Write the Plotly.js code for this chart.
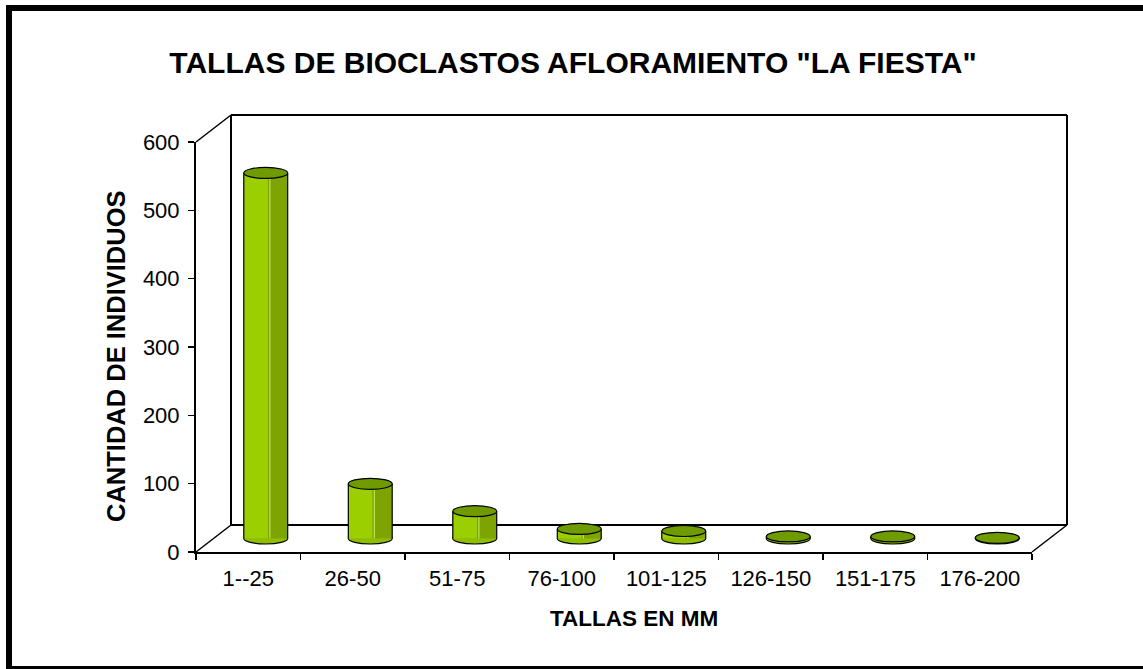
<!DOCTYPE html>
<html>
<head>
<meta charset="utf-8">
<script src="https://cdn.plot.ly/plotly-3.0.1.min.js"></script>
<style>
  html, body { margin: 0; padding: 0; background: #fff; overflow: hidden; }
  #wrap { position: relative; width: 1143px; height: 669px; overflow: hidden; }
  #chart { position: absolute; left: 0; top: 0; width: 1143px; height: 669px; }
  #frame { position: absolute; left: 6px; top: 5px; width: 1160px; height: 667px;
           border: 6px solid #000; box-sizing: border-box; pointer-events: none; }
</style>
</head>
<body>
<div id="wrap">
  <div id="chart"></div>
  <div id="frame"></div>
</div>
<script>
// ---- data ----
const categories = ["1--25", "26-50", "51-75", "76-100", "101-125", "126-150", "151-175", "176-200"];
const counts = [535, 80, 40, 14, 11, 3, 3, 1];
const yTicks = [0, 100, 200, 300, 400, 500, 600];

const titleText = 'TALLAS DE BIOCLASTOS AFLORAMIENTO "LA FIESTA"';
const xTitle = "TALLAS EN MM";
const yTitle = "CANTIDAD DE INDIVIDUOS";

// ---- geometry (pixels) ----
const W = 1143, H = 669;
const mL = 196, mR = 76, mT = 115, mB = 117;
const PW = W - mL - mR, PH = H - mT - mB;     // paper area
const depthX = 35, depthY = 27;               // 3D depth offset of back wall
const fx = (PW - depthX) / PW, fy = (PH - depthY) / PH;
const yMax = 600;
const pxPerUnit = (PH - depthY) / yMax;
const yPad = 15;                              // room under zero for cylinder bottoms
const mx0 = (depthX / 2) / PW;
const my0 = (depthY / 2 - yPad * pxPerUnit) / PH;
const my1 = (depthY / 2 + (PH - depthY)) / PH;

const idx = categories.map((c, i) => i);
const barW = 0.42;
const ellH = 5.5 / pxPerUnit;                 // half height of ellipse in data units

const traces = [
  // front axis carrier (invisible)
  { type: "bar", x: categories, y: counts.map(() => 0), xaxis: "x", yaxis: "y",
    marker: { color: "rgba(0,0,0,0)" }, hoverinfo: "skip", showlegend: false },
  // cylinder dark body
  { type: "bar", x: idx, y: counts, xaxis: "x3", yaxis: "y3", width: barW,
    marker: { color: "#7da400", line: { width: 0 } }, showlegend: false },
  // cylinder light side
  { type: "bar", x: idx, y: counts, xaxis: "x3", yaxis: "y3", width: barW * 0.55,
    offset: -barW / 2, marker: { color: "#9ccf00", line: { width: 0 } }, showlegend: false },
  // highlight stripe
  { type: "bar", x: idx, y: counts, xaxis: "x3", yaxis: "y3", width: 0.012,
    offset: barW * 0.08, marker: { color: "#b9e05a", line: { width: 0 } }, showlegend: false }
];

const shapes = [];
// back wall and floor/side edges (paper coords)
const lineS = { color: "#000", width: 2 };
const lineD = { color: "#000", width: 1.5 };
shapes.push({ type: "line", layer: "below", xref: "paper", yref: "paper", x0: 1 - fx, y0: 1 - fy, x1: 1 - fx, y1: 1, line: lineS });
shapes.push({ type: "line", layer: "below", xref: "paper", yref: "paper", x0: 1 - fx, y0: 1, x1: 1, y1: 1, line: lineS });
shapes.push({ type: "line", layer: "below", xref: "paper", yref: "paper", x0: 1, y0: 1, x1: 1, y1: 1 - fy, line: lineS });
shapes.push({ type: "line", layer: "below", xref: "paper", yref: "paper", x0: 1 - fx, y0: 1 - fy, x1: 1, y1: 1 - fy, line: lineS });
shapes.push({ type: "line", layer: "below", xref: "paper", yref: "paper", x0: 0, y0: fy, x1: 1 - fx, y1: 1, line: lineD });
shapes.push({ type: "line", layer: "below", xref: "paper", yref: "paper", x0: 0, y0: 0, x1: 1 - fx, y1: 1 - fy, line: lineD });
shapes.push({ type: "line", layer: "below", xref: "paper", yref: "paper", x0: fx, y0: 0, x1: 1, y1: 1 - fy, line: lineD });

// cylinder bottoms, side outlines and tops, computed from the data through axis x3/y3
const edge = { color: "#000", width: 1.2 };
counts.forEach((v, i) => {
  shapes.push({ type: "circle", xref: "x3", yref: "y3", layer: "below",
    x0: i - barW / 2, x1: i + barW / 2, y0: -ellH, y1: ellH,
    fillcolor: "#8fbe00", line: edge });
  shapes.push({ type: "line", xref: "x3", yref: "y3", layer: "above",
    x0: i - barW / 2, x1: i - barW / 2, y0: 0, y1: v, line: edge });
  shapes.push({ type: "line", xref: "x3", yref: "y3", layer: "above",
    x0: i + barW / 2, x1: i + barW / 2, y0: 0, y1: v, line: edge });
  shapes.push({ type: "circle", xref: "x3", yref: "y3", layer: "above",
    x0: i - barW / 2, x1: i + barW / 2, y0: v - ellH, y1: v + ellH,
    fillcolor: "#6f9a00", line: edge });
});

const font = "Arial, 'Liberation Sans', sans-serif";
const layout = {
  width: W, height: H,
  margin: { l: mL, r: mR, t: mT, b: mB, pad: 0 },
  paper_bgcolor: "#fff", plot_bgcolor: "rgba(0,0,0,0)",
  barmode: "overlay",
  showlegend: false,
  font: { family: font, color: "#000", size: 22 },
  title: { text: "<b>" + titleText + "</b>", font: { family: font, size: 30, color: "#000" },
           x: 573 / W, xref: "container", xanchor: "center", y: 1 - 62 / H, yref: "container", yanchor: "middle" },
  xaxis: { domain: [0, fx], type: "category", range: [-0.5, 7.5], anchor: "y",
           showline: true, linecolor: "#000", linewidth: 2, showgrid: false, zeroline: false,
           ticks: "outside", tickson: "boundaries", ticklen: 6, tickwidth: 1.5, tickcolor: "#000",
           ticklabelstandoff: 6,
           tickfont: { size: 22, family: font } },
  yaxis: { domain: [0, fy], range: [0, yMax], tickvals: yTicks, anchor: "x",
           showline: true, linecolor: "#000", linewidth: 2, showgrid: false, zeroline: false,
           ticks: "outside", ticklen: 6, tickwidth: 1.5, tickcolor: "#000",
           ticklabelstandoff: 4,
           tickfont: { size: 22, family: font } },
  xaxis3: { domain: [mx0, fx + mx0], range: [-0.5, 7.5], anchor: "y3",
            visible: false, fixedrange: true },
  yaxis3: { domain: [my0, my1], range: [-yPad, yMax], anchor: "x3",
            visible: false, fixedrange: true },
  annotations: [
    { text: "<b>" + yTitle + "</b>", xref: "paper", yref: "paper", textangle: -90,
      x: (116 - mL) / PW, y: ((H - mB) - 356) / PH,
      xanchor: "center", yanchor: "middle", showarrow: false,
      font: { size: 25.5, family: font, color: "#000" } },
    { text: "<b>" + xTitle + "</b>", xref: "paper", yref: "paper",
      x: (634 - mL) / PW, y: -(618 - (H - mB)) / PH,
      xanchor: "center", yanchor: "middle", showarrow: false,
      font: { size: 22.5, family: font, color: "#000" } }
  ],
  shapes: shapes
};

Plotly.newPlot("chart", traces, layout, { displayModeBar: false, staticPlot: true });
</script>
</body>
</html>
